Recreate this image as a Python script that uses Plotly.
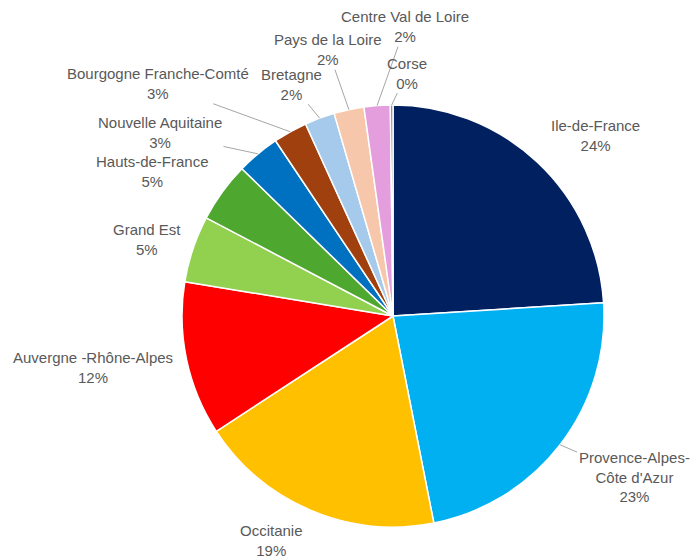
import math
import plotly.graph_objects as go

# ---- data ----
regions = ["Ile-de-France", "Provence-Alpes-Côte d'Azur", "Occitanie",
           "Auvergne -Rhône-Alpes", "Grand Est", "Hauts-de-France",
           "Nouvelle Aquitaine", "Bourgogne Franche-Comté", "Bretagne",
           "Pays de la Loire", "Centre Val de Loire", "Corse"]
display_names = ["Ile-de-France", "Provence-Alpes-<br>Côte d'Azur", "Occitanie",
                 "Auvergne -Rhône-Alpes", "Grand Est", "Hauts-de-France",
                 "Nouvelle Aquitaine", "Bourgogne Franche-Comté", "Bretagne",
                 "Pays de la Loire", "Centre Val de Loire", "Corse"]
shares = [24.0, 22.9, 18.9, 11.8, 5.1, 4.6, 3.3, 2.6, 2.3, 2.3, 2.0, 0.2]

# ---- styles ----
colors = ["#002060", "#00B0F0", "#FFC000", "#FF0000", "#92D050", "#4EA72E",
          "#0070C0", "#A0400F", "#A6CAEC", "#F7C7AC", "#E49EDD", "#7F7F7F"]
# label offsets (pixels) from the slice's outer edge midpoint
label_dx = [58, 74, -40, -94, -46, -70, -98, -132, -28, -21, 28, 15]
label_dy = [-27, 32, 30, 8, -9, -20, -21, -48, -34, -60, -79, -32]
leader = [False, True, False, False, False, False, True, True, True, True, True, True]

W, H = 700, 560
dom_x = [182 / W, 604 / W]
dom_y = [1 - 527 / H, 1 - 105 / H]

fig = go.Figure(go.Pie(
    labels=regions, values=shares, sort=False, direction="clockwise",
    rotation=0, marker=dict(colors=colors, line=dict(color="white", width=1.5)),
    textinfo="none", hoverinfo="label+percent", showlegend=False,
    domain=dict(x=dom_x, y=dom_y),
))

# geometry of the pie in pixels (from the domain)
cx = (dom_x[0] + dom_x[1]) / 2 * W
cy = (1 - (dom_y[0] + dom_y[1]) / 2) * H
R = min((dom_x[1] - dom_x[0]) * W, (dom_y[1] - dom_y[0]) * H) / 2

total = sum(shares)
cum = 0.0
annotations = []
for i, v in enumerate(shares):
    mid = (cum + v / 2) / total * 2 * math.pi
    cum += v
    px = cx + R * math.sin(mid)
    py = cy - R * math.cos(mid)
    pct = round(v / total * 100)
    annotations.append(dict(
        x=px / W, y=1 - py / H, xref="paper", yref="paper",
        text=f"{display_names[i]}<br>{pct}%",
        showarrow=True, ax=label_dx[i], ay=label_dy[i], arrowhead=0,
        arrowwidth=1, standoff=0,
        arrowcolor="#A6A6A6" if leader[i] else "rgba(0,0,0,0)",
        font=dict(family="Liberation Sans, Arial", size=15, color="#595959"),
        align="center",
    ))

fig.update_layout(
    width=W, height=H, margin=dict(l=0, r=0, t=0, b=0),
    paper_bgcolor="white", plot_bgcolor="white",
    annotations=annotations,
)

fig.write_html("out.html", config={"displayModeBar": False},
               post_script="document.body.style.margin='0';")
